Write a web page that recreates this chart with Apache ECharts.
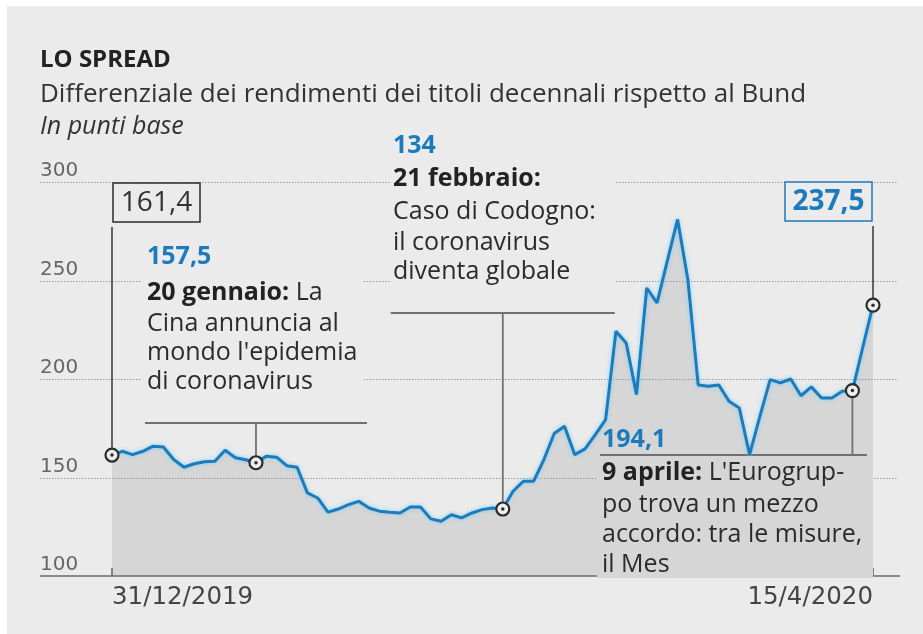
<!DOCTYPE html>
<html>
<head>
<meta charset="utf-8">
<script src="https://cdn.jsdelivr.net/npm/echarts@6/dist/echarts.min.js"></script>
<style>
  html, body { margin: 0; padding: 0; background: #fff; }
  #bg { position: absolute; left: 7px; top: 6px; right: 0; bottom: 0; background: #ebebeb; }
  #chart { position: absolute; left: 0; top: 0; width: 923px; height: 634px; }
</style>
</head>
<body>
<div id="bg"></div>
<div id="chart"></div>
<script>
// spread BTP-Bund in punti base, una seduta per punto (31/12/2019 -> 15/4/2020)
const spread = [
  161.4, 163.3, 161.6, 163.3, 165.9, 165.5, 159.1, 155.2, 157, 158,
  158.2, 163.8, 160, 159, 157.5, 160.8, 160.3, 156, 155.2, 142.2,
  139.6, 132.4, 134, 136.2, 137.9, 134.5, 132.9, 132.4, 132, 135,
  135, 129, 127.8, 131.1, 129.5, 132, 133.7, 134.5, 134, 143,
  148.1, 148.1, 159.1, 172.3, 176, 161.6, 164.5, 171.8, 179.4, 224.2,
  218.3, 192.1, 246.2, 238.6, 260, 281, 250.4, 197, 196.3, 197,
  188.7, 185.3, 161.6, 181, 199.7, 198, 200, 191.5, 196, 190.4,
  190.4, 193.8, 194.1, 216, 237.5
];
const yTicks = [100, 150, 200, 250, 300];
const xTickLabels = ['31/12/2019', '15/4/2020'];
// indici dei punti annotati
const idxStart = 0, idxJan20 = 14, idxFeb21 = 38, idxApr9 = 72, idxEnd = spread.length - 1;

const FONT = '"Open Sans", sans-serif';
const AXIS_FONT = '"DejaVu Sans", sans-serif';
const BLUE = '#1b7bbd';
const DARK = '#2b2b2b';
const BG = '#ebebeb';
const AREA = '#d6d6d6';
const RULE = '#707070';
const FS = 25; // corpo testo annotazioni

const chart = echarts.init(document.getElementById('chart'), null, { renderer: 'canvas' });
const last = spread.length - 1;

chart.setOption({
  animation: false,
  backgroundColor: 'transparent',
  grid: { left: 112, right: 50, top: 182, bottom: 58 },
  xAxis: {
    type: 'category',
    data: spread.map((v, i) => String(i)),
    boundaryGap: false,
    axisLine: { show: false },
    axisTick: { show: false },
    splitLine: { show: false },
    axisLabel: {
      interval: (i) => i === 0 || i === last,
      formatter: (v, i) => i === 0 ? xTickLabels[0] : (i === last ? xTickLabels[1] : ''),
      alignMinLabel: 'left',
      alignMaxLabel: 'right',
      margin: 9,
      fontSize: 24.5,
      color: '#454545',
      fontFamily: AXIS_FONT
    }
  },
  yAxis: {
    type: 'value',
    min: yTicks[0],
    max: yTicks[yTicks.length - 1],
    interval: 50,
    axisLine: { show: false },
    axisTick: { show: false },
    splitLine: { show: false },
    axisLabel: {
      align: 'left',
      verticalAlign: 'bottom',
      margin: 72,
      padding: [0, 0, 1, 0],
      fontSize: 20,
      color: '#666',
      fontFamily: AXIS_FONT
    }
  },
  series: [
    {
      // area grigia sotto la curva
      type: 'line', data: spread, symbol: 'none', silent: true, z: 1,
      lineStyle: { width: 0 },
      areaStyle: { color: AREA, opacity: 1 }
    },
    {
      type: 'line', data: spread, symbol: 'none', silent: true, z: 5,
      lineStyle: { color: BLUE, width: 3, shadowColor: 'rgba(120,205,245,0.9)', shadowBlur: 4 }
    },
    {
      type: 'scatter', z: 6, silent: true, symbolSize: 13,
      data: [idxStart, idxJan20, idxFeb21, idxApr9, idxEnd].map(i => [i, spread[i]]),
      itemStyle: { color: '#eeeeee', borderColor: DARK, borderWidth: 2.2, opacity: 1 }
    },
    {
      type: 'scatter', z: 7, silent: true, symbolSize: 3.5,
      data: [idxStart, idxJan20, idxFeb21, idxApr9, idxEnd].map(i => [i, spread[i]]),
      itemStyle: { color: DARK, opacity: 1 }
    }
  ]
});

// posizioni in pixel dei punti annotati
const px = (i) => chart.convertToPixel({ seriesIndex: 1 }, [i, spread[i]]);
const yPx = (v) => chart.convertToPixel({ yAxisIndex: 0 }, v);
const pStart = px(idxStart), pJan = px(idxJan20), pFeb = px(idxFeb21), pApr = px(idxApr9), pEnd = px(idxEnd);
const yBase = yPx(yTicks[0]);

const line = (x1, y1, x2, y2, style, z) => ({
  type: 'line', z: z || 4, silent: true,
  shape: { x1, y1, x2, y2 },
  style: Object.assign({ stroke: RULE, lineWidth: 1.8 }, style)
});
const text = (x, y, str, opts) => ({
  type: 'text', z: 4, silent: true, x, y,
  style: Object.assign({
    text: str, fontFamily: FONT, fontSize: FS, fill: DARK,
    verticalAlign: 'middle', align: 'left',
    rich: { b: { fontFamily: FONT, fontSize: FS, fontWeight: 'bold', fill: '#222' } }
  }, opts || {})
});
const rect = (x, y, w, h, style, z) => ({
  type: 'rect', z: z || 3, silent: true,
  shape: { x, y, width: w, height: h },
  style: Object.assign({ fill: BG }, style)
});

const elements = [];

// griglia tratteggiata estesa oltre l'area del grafico
yTicks.slice(1).forEach(v => {
  const y = Math.round(yPx(v)) + 0.5;
  elements.push(line(40, y, 898, y, { stroke: '#9a9a9a', lineWidth: 1.2, lineDash: [1.5, 1.5] }, 2));
});
// linea di base
elements.push(line(40, yBase, 900, yBase, { stroke: '#6a6a6a', lineWidth: 1.6 }, 2));
elements.push(line(pStart[0], yBase, pStart[0], yBase - 8, { stroke: '#6a6a6a', lineWidth: 1.6 }, 2));

// titolo
elements.push(text(40, 60, 'LO SPREAD', { fontSize: 24, fontWeight: 'bold', fill: '#222' }));
elements.push(text(40, 95, 'Differenziale dei rendimenti dei titoli decennali rispetto al Bund', { fontSize: 26, fill: '#333' }));
elements.push(text(40, 127, 'In punti base', { fontSize: 25, fontStyle: 'italic', fill: '#333' }));

// 161,4 - primo valore
elements.push(rect(113, 183, 87, 39, { stroke: DARK, lineWidth: 1.5 }));
elements.push(text(156.5, 203, '161,4', { align: 'center', fontSize: 28, fill: '#333' }));
elements.push(line(pStart[0], 227, pStart[0], pStart[1] - 7, { stroke: '#555', lineWidth: 1.8 }));

// 20 gennaio
elements.push(rect(142, 238, 222, 180));
elements.push(text(147, 257, '157,5', { fontSize: FS, fontWeight: 'bold', fill: BLUE }));
elements.push(text(147, 293, '{b|20 gennaio:} La'));
elements.push(text(147, 324, 'Cina annuncia al'));
elements.push(text(147, 353, "mondo l'epidemia"));
elements.push(text(147, 382, 'di coronavirus'));
elements.push(line(pJan[0] - 111, 423, pJan[0] + 111, 423));
elements.push(line(pJan[0], 423, pJan[0], pJan[1] - 7));

// 21 febbraio
elements.push(rect(pFeb[0] - 112, 132, 224, 176));
elements.push(text(393, 146, '134', { fontSize: FS, fontWeight: 'bold', fill: BLUE }));
elements.push(text(393, 179, '{b|21 febbraio:}'));
elements.push(text(393, 212, 'Caso di Codogno:'));
elements.push(text(393, 243, 'il coronavirus'));
elements.push(text(393, 272, 'diventa globale'));
elements.push(line(pFeb[0] - 112, 313, pFeb[0] + 112, 313));
elements.push(line(pFeb[0], 313, pFeb[0], pFeb[1] - 7));

// 9 aprile
elements.push(rect(597, 455, pEnd[0] - 597, yBase - 455 + 2, { fill: AREA }));
elements.push(text(602, 440, '194,1', { fontSize: FS, fontWeight: 'bold', fill: BLUE }));
elements.push(line(600, 455, 867, 455));
elements.push(line(pApr[0], 455, pApr[0], pApr[1] + 7));
elements.push(text(602, 473, "{b|9 aprile:} L'Eurogrup-"));
elements.push(text(602, 505, 'po trova un mezzo'));
elements.push(text(602, 535, 'accordo: tra le misure,'));
elements.push(text(602, 565, 'il Mes'));
elements.push(line(pEnd[0], yBase, pEnd[0], yBase - 8, { stroke: '#6a6a6a', lineWidth: 1.6 }, 2));

// 237,5 - ultimo valore
elements.push(rect(785, 182, 87, 39, { stroke: BLUE, lineWidth: 1.5 }));
elements.push(text(828.5, 202, '237,5', { align: 'center', fontSize: 28, fontWeight: 'bold', fill: BLUE }));
elements.push(line(pEnd[0], 226, pEnd[0], pEnd[1] - 7, { stroke: '#555', lineWidth: 1.8 }));

chart.setOption({ graphic: { elements } });
</script>
</body>
</html>
